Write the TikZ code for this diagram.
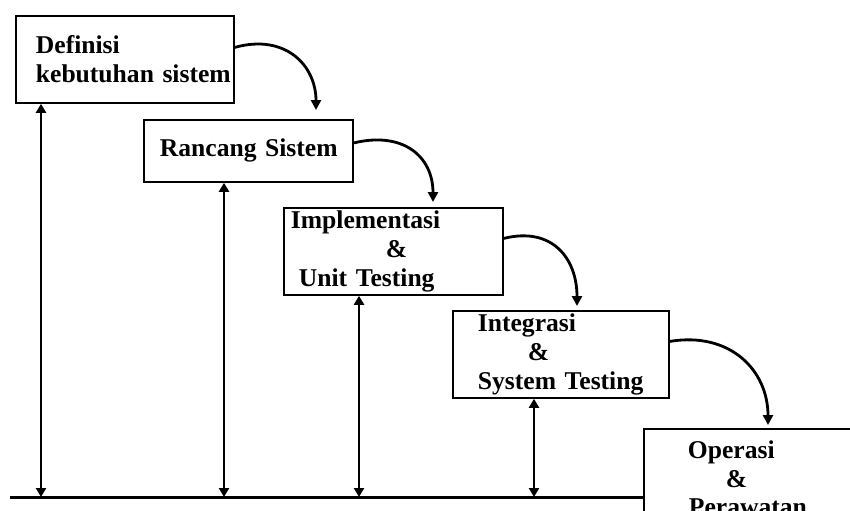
\documentclass[tikz,border=0pt]{standalone}
\usepackage{fontspec}
\setmainfont{Liberation Serif}
\usetikzlibrary{arrows.meta}

\begin{document}
\begin{tikzpicture}[x=0.5pt,y=-0.5pt,
		fase/.style={draw,line width=0.9pt,anchor=north west,inner sep=0pt,align=left,font=\bfseries\fontsize{12.8}{14.3}\selectfont},
		alur/.style={line width=1.4pt,-{Triangle[length=5pt,width=5pt]}},
		balik/.style={line width=1.4pt,{Triangle[length=4.5pt,width=5pt]}-{Triangle[length=4.5pt,width=5pt]}}]
		\useasboundingbox (0,0) rectangle (850,510);
		\clip (0,0) rectangle (850,510);
		\node[fase,minimum width=109pt,minimum height=43.5pt,text width=109pt] (b1) at (15,15)
			{\hspace*{10pt}Definisi\\\hspace*{10pt}kebutuhan sistem};
		\node[fase,minimum width=104.5pt,minimum height=31pt,text width=104.5pt] (b2) at (143,119)
			{\hspace*{8pt}Rancang Sistem};
		\node[fase,minimum width=109.5pt,minimum height=43.5pt,text width=109.5pt] (b3) at (283,207)
			{\hspace*{3.5pt}Implementasi\\\hspace*{51pt}\&\\\hspace*{7.5pt}Unit Testing};
		\node[fase,minimum width=108pt,minimum height=43.5pt,text width=108pt] (b4) at (452,310)
			{\hspace*{12.5pt}Integrasi\\\hspace*{37.5pt}\&\\\hspace*{12.5pt}System Testing};
		\node[fase,minimum width=115pt,minimum height=49.5pt,text width=115pt] (b5) at (643,428)
			{\hspace*{22pt}Operasi\\\hspace*{41pt}\&\\\hspace*{22.5pt}Perawatan};
		\coordinate (t1) at (316,110);
		\coordinate (t2) at (433,202);
		\coordinate (t3) at (577,306);
		\coordinate (t4) at (768,425);
		\draw[alur] ([yshift=6pt]b1.east) .. controls +(50,-14) and +(0,-45) .. (t1);
		\draw[alur] ([yshift=4pt]b2.east) .. controls +(50,-12) and +(0,-45) .. (t2);
		\draw[alur] ([yshift=6.5pt]b3.east) .. controls +(48,-12) and +(0,-48) .. (t3);
		\draw[alur] ([yshift=6.5pt]b4.east) .. controls +(60,-10) and +(0,-55) .. (t4);
		\coordinate (dasar) at (10,497);
		\coordinate (v1) at (41,497);
		\coordinate (v2) at (224,497);
		\coordinate (v3) at (359,497);
		\coordinate (v4) at (534,497);
		\draw[line width=1.5pt] (dasar) -- (dasar -| b5.west);
		\draw[balik] (b1.south -| v1) -- (v1);
		\draw[balik] (b2.south -| v2) -- (v2);
		\draw[balik] (b3.south -| v3) -- (v3);
		\draw[balik] (b4.south -| v4) -- (v4);
	\end{tikzpicture}
\end{document}
